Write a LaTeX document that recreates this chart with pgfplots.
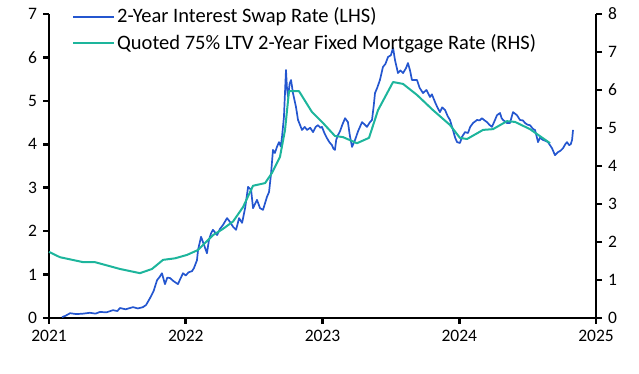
\documentclass[border=0pt]{standalone}
\usepackage{pgfplots}
\pgfplotsset{compat=1.18}
\usepackage{fontspec}
\setmainfont{Carlito}
\definecolor{swapblue}{HTML}{2456CF}
\definecolor{mortteal}{HTML}{1DB59C}
\begin{document}
\fontsize{17.5}{20}\selectfont
\begin{tikzpicture}[x=1pt,y=1pt]
\path (0,0) rectangle (639,374);
\begin{axis}[
  at={(49pt,56pt)}, anchor=south west,
  scale only axis, width=547pt, height=304pt,
  xmin=2021, xmax=2025, ymin=0, ymax=7,
  axis x line*=bottom, axis y line*=left,
  axis line style={line width=2.6pt, -},
  xtick={2021,2022,2023,2024,2025},
  xticklabels={2021,2022,2023,2024,2025},
  ytick={0,1,...,7},
  tick align=outside, major tick length=6pt,
  tick style={line width=2.6pt, black},
  /pgf/number format/assume math mode=true,
  legend cell align=left,
  legend style={draw=none, fill=none, at={(rel axis cs:0.042,1.027)}, anchor=north west, inner sep=0pt, row sep=4.5pt, font=\fontsize{20.5}{22}\selectfont},
  legend image code/.code={\draw[#1] (0pt,0pt) -- (41pt,0pt);},
  clip=false,
]
\addlegendimage{color=swapblue, line width=2pt}
\addlegendentry{2-Year Interest Swap Rate (LHS)}
\addlegendimage{color=mortteal, line width=2pt}
\addlegendentry{Quoted 75\% LTV 2-Year Fixed Mortgage Rate (RHS)}
\addplot[forget plot, color=swapblue, line width=1.7pt, line join=round] coordinates {
(2021.095,0.02) (2021.12,0.05) (2021.154,0.11) (2021.20,0.09) (2021.249,0.10) (2021.30,0.12) (2021.34,0.10) (2021.373,0.14) (2021.42,0.13) (2021.468,0.18) (2021.50,0.16) (2021.519,0.23) (2021.56,0.20) (2021.614,0.25) (2021.65,0.22) (2021.687,0.25) (2021.71,0.30) (2021.739,0.46) (2021.765,0.62) (2021.790,0.87) (2021.81,0.95) (2021.826,1.03) (2021.848,0.78) (2021.865,0.93) (2021.885,0.92) (2021.91,0.85) (2021.943,0.78) (2021.96,0.90) (2021.980,1.03) (2022.00,0.98) (2022.02,1.05) (2022.046,1.08) (2022.06,1.15) (2022.082,1.33) (2022.090,1.57) (2022.112,1.87) (2022.134,1.68) (2022.155,1.49) (2022.170,1.80) (2022.185,1.95) (2022.199,2.03) (2022.229,1.91) (2022.250,2.05) (2022.272,2.14) (2022.302,2.30) (2022.324,2.21) (2022.346,2.10) (2022.368,2.03) (2022.390,2.30) (2022.412,2.19) (2022.434,2.53) (2022.456,3.02) (2022.478,2.95) (2022.492,2.53) (2022.521,2.72) (2022.543,2.53) (2022.565,2.49) (2022.594,2.79) (2022.609,2.90) (2022.623,3.30) (2022.638,3.87) (2022.652,3.80) (2022.667,3.94) (2022.682,4.05) (2022.695,3.95) (2022.704,4.17) (2022.718,4.63) (2022.733,5.71) (2022.740,5.30) (2022.748,5.09) (2022.760,5.40) (2022.770,5.48) (2022.784,5.18) (2022.806,4.86) (2022.821,4.56) (2022.835,4.45) (2022.850,4.33) (2022.87,4.40) (2022.887,4.33) (2022.91,4.38) (2022.931,4.28) (2022.95,4.40) (2022.967,4.44) (2022.985,4.38) (2022.996,4.40) (2023.015,4.25) (2023.033,4.14) (2023.05,4.05) (2023.069,3.98) (2023.080,3.90) (2023.091,3.87) (2023.100,4.10) (2023.113,4.21) (2023.128,4.30) (2023.145,4.45) (2023.165,4.60) (2023.186,4.51) (2023.200,4.20) (2023.216,3.94) (2023.238,4.10) (2023.26,4.30) (2023.289,4.51) (2023.31,4.45) (2023.325,4.40) (2023.345,4.50) (2023.362,4.56) (2023.375,4.90) (2023.384,5.18) (2023.40,5.30) (2023.420,5.48) (2023.442,5.78) (2023.460,5.85) (2023.479,6.01) (2023.50,6.05) (2023.516,6.22) (2023.530,5.94) (2023.552,5.64) (2023.570,5.70) (2023.589,5.64) (2023.610,5.75) (2023.625,5.87) (2023.640,5.70) (2023.654,5.48) (2023.691,5.48) (2023.71,5.30) (2023.735,5.18) (2023.760,5.25) (2023.786,5.09) (2023.80,5.15) (2023.823,4.97) (2023.84,4.85) (2023.859,4.74) (2023.875,4.85) (2023.896,4.79) (2023.915,4.65) (2023.932,4.56) (2023.954,4.33) (2023.970,4.15) (2023.984,4.05) (2024.005,4.03) (2024.020,4.17) (2024.042,4.28) (2024.064,4.26) (2024.08,4.40) (2024.101,4.49) (2024.130,4.56) (2024.150,4.55) (2024.166,4.60) (2024.185,4.55) (2024.203,4.51) (2024.220,4.45) (2024.239,4.40) (2024.260,4.55) (2024.276,4.67) (2024.298,4.72) (2024.310,4.60) (2024.320,4.56) (2024.349,4.49) (2024.371,4.49) (2024.393,4.74) (2024.41,4.70) (2024.422,4.67) (2024.444,4.56) (2024.465,4.55) (2024.481,4.49) (2024.50,4.45) (2024.517,4.44) (2024.540,4.35) (2024.554,4.33) (2024.576,4.05) (2024.590,4.15) (2024.612,4.10) (2024.630,4.08) (2024.649,4.05) (2024.678,3.91) (2024.700,3.75) (2024.722,3.82) (2024.740,3.85) (2024.759,3.91) (2024.775,4.00) (2024.788,4.05) (2024.803,3.98) (2024.815,4.00) (2024.825,4.10) (2024.832,4.33)
};
\end{axis}
\begin{axis}[
  at={(49pt,56pt)}, anchor=south west,
  scale only axis, width=547pt, height=304pt,
  xmin=2021, xmax=2025, ymin=0, ymax=8,
  axis x line=none, axis y line*=right,
  axis line style={line width=2.6pt, -},
  ytick={0,1,...,8},
  tick align=outside, major tick length=6pt,
  tick style={line width=2.6pt, black},
  /pgf/number format/assume math mode=true,
  clip=false,
]
\addplot[color=mortteal, line width=2pt, line join=round] coordinates {
(2021.000,1.74) (2021.080,1.60) (2021.249,1.47) (2021.336,1.47) (2021.519,1.29) (2021.665,1.18) (2021.753,1.29) (2021.834,1.53) (2021.921,1.57) (2022.009,1.66) (2022.090,1.79) (2022.199,2.18) (2022.270,2.34) (2022.346,2.54) (2022.419,2.92) (2022.492,3.48) (2022.580,3.55) (2022.631,3.82) (2022.689,4.24) (2022.726,4.95) (2022.755,5.97) (2022.828,5.97) (2022.923,5.42) (2023.004,5.13) (2023.091,4.79) (2023.150,4.76) (2023.252,4.60) (2023.340,4.74) (2023.406,5.47) (2023.516,6.21) (2023.589,6.16) (2023.691,5.87) (2023.808,5.47) (2023.932,5.08) (2024.005,4.74) (2024.057,4.71) (2024.174,4.95) (2024.247,4.97) (2024.349,5.18) (2024.408,5.16) (2024.517,4.97) (2024.664,4.60)
};
\end{axis}
\end{tikzpicture}
\end{document}
